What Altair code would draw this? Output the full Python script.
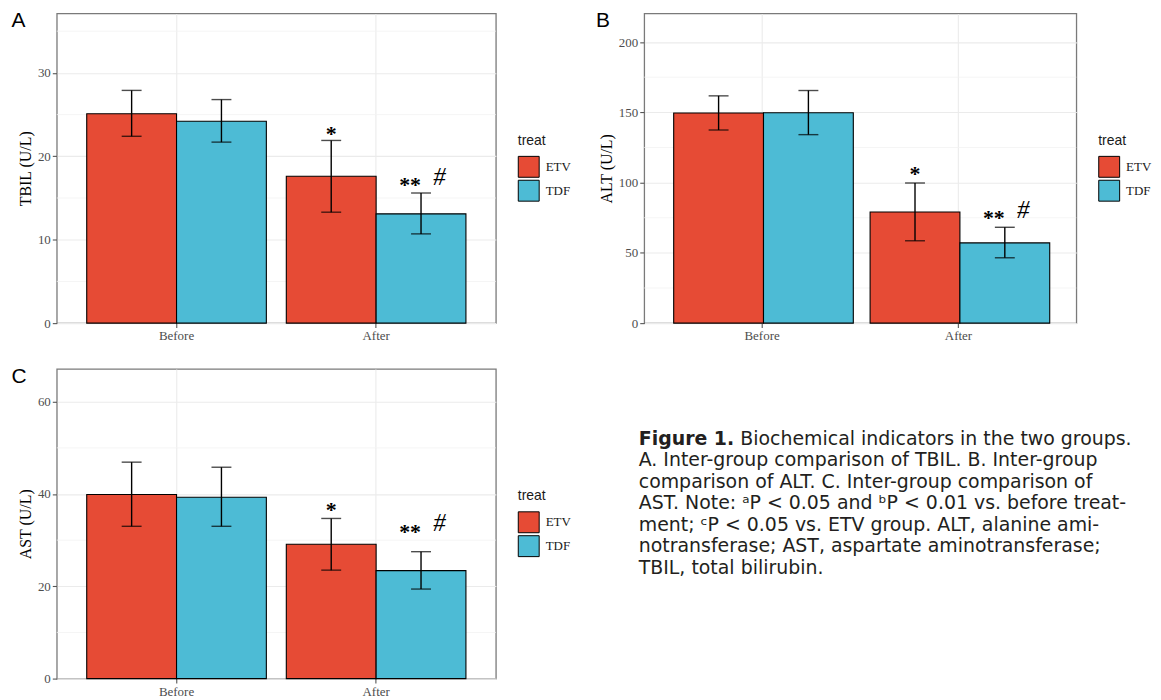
import altair as alt
import pandas as pd

SERIF = "Liberation Serif"
SANS = "Liberation Sans"
CAPFONT = "DejaVu Sans"

times = ["Before", "After"]
treats = ["ETV", "TDF"]
colors = ["#E64B35", "#4DBBD5"]
bar_time = ["Before", "Before", "After", "After"]
bar_treat = ["ETV", "TDF", "ETV", "TDF"]

# Panel A: TBIL
tbil_mean = [25.1, 24.2, 17.6, 13.1]
tbil_lo = [22.4, 21.7, 13.3, 10.7]
tbil_hi = [27.9, 26.8, 21.9, 15.6]
tbil_ticks = [0, 10, 20, 30]
tbil_minor = [5, 15, 25, 35]
tbil_ann_y = [22.95, 16.8, 17.4]

# Panel B: ALT
alt_mean = [149.5, 149.7, 79.1, 57.1]
alt_lo = [137.4, 134.1, 58.6, 46.5]
alt_hi = [161.7, 165.5, 99.7, 68.2]
alt_ticks = [0, 50, 100, 150, 200]
alt_minor = [25, 75, 125, 175]
alt_ann_y = [107.5, 76.0, 80.3]

# Panel C: AST
ast_mean = [39.9, 39.3, 29.1, 23.4]
ast_lo = [33.0, 33.0, 23.5, 19.4]
ast_hi = [46.9, 45.8, 34.7, 27.5]
ast_ticks = [0, 20, 40, 60]
ast_minor = [10, 30, 50]
ast_ann_y = [37.06, 32.2, 33.5]

ann_labels = ["*", "**", "#"]
ann_treat = ["ETV", "TDF", "TDF"]

cap_bold = "Figure 1."
cap_first = "Biochemical indicators in the two groups."
cap_lines = [
    "A. Inter-group comparison of TBIL. B. Inter-group",
    "comparison of ALT. C. Inter-group comparison of",
    "AST. Note: \u1d43P < 0.05 and \u1d47P < 0.01 vs. before treat-",
    "ment; \u1d9cP < 0.05 vs. ETV group. ALT, alanine ami-",
    "notransferase; AST, aspartate aminotransferase;",
    "TBIL, total bilirubin.",
]

H = 311
CAPSIZE = 19


def panel(letter, letter_dx, ytitle, mean, lo, hi, ymax, major, minor, ann_y, W):
    df = pd.DataFrame({"time": bar_time, "treat": bar_treat,
                       "mean": mean, "lo": lo, "hi": hi})
    xenc = alt.X("time:N", sort=times, title=None,
                 scale=alt.Scale(domain=times, paddingInner=0.1, paddingOuter=0.15),
                 axis=alt.Axis(labelAngle=0, grid=True, bandPosition=0.5))
    xoff = alt.XOffset("treat:N", sort=treats,
                       scale=alt.Scale(domain=treats, paddingInner=0, paddingOuter=0))

    def yenc(f):
        return alt.Y(f, type="quantitative", title=ytitle,
                     scale=alt.Scale(domain=[0, ymax], nice=False, zero=False),
                     axis=alt.Axis(values=major, grid=True))

    minor_layer = alt.Chart(pd.DataFrame({"v": minor})).mark_rule(
        color="#F3F3F3", strokeWidth=0.8).encode(y=yenc("v"))

    bars = alt.Chart(df).mark_bar(stroke="black", strokeWidth=1.1).encode(
        x=xenc, xOffset=xoff, y=yenc("mean"),
        color=alt.Color("treat:N", sort=treats,
                        scale=alt.Scale(domain=treats, range=colors),
                        legend=alt.Legend(title="treat", orient="none",
                                          legendX=W + 22, legendY=121,
                                          symbolType="square", symbolSize=441,
                                          symbolStrokeColor="black", symbolStrokeWidth=1,
                                          symbolOpacity=1, rowPadding=-4,
                                          labelFont=SERIF, labelFontSize=13,
                                          labelColor="#1a1a1a", labelOffset=6,
                                          titleFont=SANS, titleFontSize=14,
                                          titleFontWeight="normal", titleColor="#1a1a1a",
                                          titlePadding=8)))

    err = alt.Chart(df).mark_rule(color="black", strokeWidth=1.4).encode(
        x=xenc, xOffset=xoff, y=yenc("lo"), y2="hi")
    cap_lo = alt.Chart(df).mark_tick(color="black", thickness=1.4, size=20).encode(
        x=xenc, xOffset=xoff, y=yenc("lo"))
    cap_hi = alt.Chart(df).mark_tick(color="black", thickness=1.4, size=20).encode(
        x=xenc, xOffset=xoff, y=yenc("hi"))

    adf = pd.DataFrame({"time": ["After"] * 3, "treat": ann_treat,
                        "y": ann_y, "t": ann_labels})
    star = alt.Chart(adf.iloc[[0]]).mark_text(
        font=SERIF, fontWeight="bold", fontSize=22, baseline="alphabetic",
        dy=9, color="black").encode(x=xenc, xOffset=xoff, y=yenc("y"), text="t:N")
    dstar = alt.Chart(adf.iloc[[1]]).mark_text(
        font=SERIF, fontWeight="bold", fontSize=22, baseline="alphabetic",
        dy=9, dx=-11, color="black").encode(x=xenc, xOffset=xoff, y=yenc("y"), text="t:N")
    hashm = alt.Chart(adf.iloc[[2]]).mark_text(
        font=SERIF, fontStyle="italic", fontSize=25, baseline="alphabetic",
        dy=7.5, dx=18.5, color="black").encode(x=xenc, xOffset=xoff, y=yenc("y"), text="t:N")

    letter_layer = alt.Chart(pd.DataFrame({"t": [letter]})).mark_text(
        font=SANS, fontSize=21, align="left", baseline="top", color="black").encode(
        x=alt.value(letter_dx), y=alt.value(-3), text="t:N")

    return alt.layer(minor_layer, bars, err, cap_lo, cap_hi, star, dstar, hashm,
                     letter_layer).properties(width=W, height=H)


pA = panel("A", -45.5, "TBIL (U/L)", tbil_mean, tbil_lo, tbil_hi, 37.12,
           tbil_ticks, tbil_minor, tbil_ann_y, 441)
pB = panel("B", -48.5, "ALT (U/L)", alt_mean, alt_lo, alt_hi, 220.3,
           alt_ticks, alt_minor, alt_ann_y, 434)
pC = panel("C", -45.5, "AST (U/L)", ast_mean, ast_lo, ast_hi, 67.1,
           ast_ticks, ast_minor, ast_ann_y, 441)

ycap = alt.Y("line:Q", scale=alt.Scale(domain=[-3.23, 11.12], reverse=True,
                                        nice=False, zero=False), axis=None)
cap_bold_df = pd.DataFrame({"line": [0], "txt": [cap_bold]})
cap_first_df = pd.DataFrame({"line": [0], "txt": [cap_first]})
cap_rest_df = pd.DataFrame({"line": list(range(1, len(cap_lines) + 1)), "txt": cap_lines})

cap_b = alt.Chart(cap_bold_df).mark_text(
    font=CAPFONT, fontWeight="bold", fontSize=CAPSIZE, align="left", baseline="middle",
    color="#231f20").encode(x=alt.value(-5.5), y=ycap, text="txt:N")
cap_f = alt.Chart(cap_first_df).mark_text(
    font=CAPFONT, fontSize=CAPSIZE, align="left", baseline="middle",
    color="#231f20").encode(x=alt.value(96.5), y=ycap, text="txt:N")
cap_r = alt.Chart(cap_rest_df).mark_text(
    font=CAPFONT, fontSize=CAPSIZE, align="left", baseline="middle",
    color="#231f20").encode(x=alt.value(-5.5), y=ycap, text="txt:N")
cap = alt.layer(cap_b, cap_f, cap_r).properties(
    width=434, height=H, view=alt.ViewBackground(strokeOpacity=0))

chart = alt.concat(
    pA, pB, pC, cap, columns=2,
    spacing=alt.RowColnumber(row=46, column=149), bounds="flush"
).resolve_scale(
    x="independent", y="independent", color="independent"
).resolve_legend(color="independent").properties(
    padding={"left": 2, "top": 0, "right": 0, "bottom": 0}
).configure_view(
    stroke="#7a7a7a", strokeWidth=1.3
).configure_axis(
    labelFont=SERIF, labelFontSize=13, labelColor="#4d4d4d",
    titleFont=SERIF, titleFontSize=16, titleFontWeight="normal", titleColor="black",
    tickColor="#555555", tickSize=4.5, tickWidth=1.1,
    gridColor="#EBEBEB", gridWidth=1.1, domain=False,
    labelPadding=2, titlePadding=4
)

chart.save("out.html", embed_options={"renderer": "svg", "actions": False})
